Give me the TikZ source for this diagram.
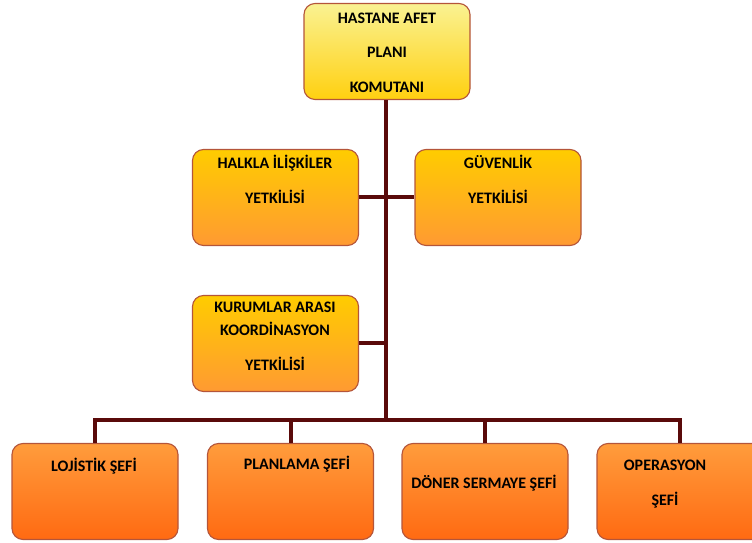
\documentclass[tikz,border=0pt]{standalone}
\usepackage{fontspec}
\setmainfont{Carlito}
\definecolor{lineclr}{HTML}{5A0A0A}
\definecolor{edgeclr}{HTML}{B4553A}
\definecolor{ytop}{HTML}{FAF292}
\definecolor{ybot}{HTML}{FFD010}
\definecolor{mtop}{HTML}{FFCC00}
\definecolor{mbot}{HTML}{FF9A32}
\definecolor{btop}{HTML}{FF9C3C}
\definecolor{bbot}{HTML}{FF6A12}
\begin{document}
\begin{tikzpicture}[x=1pt,y=1pt,
  boxbase/.style={draw=edgeclr, line width=1.1pt, rounded corners=11pt,
    minimum width=166pt, minimum height=96pt, inner sep=0pt},
  topbox/.style={boxbase, top color=ytop, bottom color=ybot},
  midbox/.style={boxbase, top color=mtop, bottom color=mbot},
  lowbox/.style={boxbase, top color=btop, bottom color=bbot},
  lbl/.style={anchor=base, inner sep=0pt, font=\bfseries\fontsize{16}{17}\selectfont, text=black},
  conn/.style={draw=lineclr, line width=4pt}]
\useasboundingbox (0,0) rectangle (752,543);
% boxes
\node[topbox] (top) at (387,491.5) {};
\node[midbox] (hal) at (275.5,345.5) {};
\node[midbox] (guv) at (498,345.5) {};
\node[midbox] (kur) at (275.5,199.5) {};
\node[lowbox] (loj) at (95,51.5) {};
\node[lowbox] (pla) at (290.5,51.5) {};
\node[lowbox] (don) at (485,51.5) {};
\node[lowbox] (ope) at (680,51.5) {};
% connectors
\coordinate (bus) at (386,123);
\coordinate (busL) at (95,123);
\coordinate (busR) at (680,123);
\draw[conn] (top.south -| bus) -- (bus);
\draw[conn] (hal.east) -- (guv.west);
\draw[conn] (kur.east) -- (kur.east -| bus);
\draw[conn] ([xshift=-2pt]busL) -- ([xshift=2pt]busR);
\draw[conn] (busL) -- (loj.north);
\draw[conn] (pla.north |- bus) -- (pla.north);
\draw[conn] (don.north |- bus) -- (don.north);
\draw[conn] (busR) -- (ope.north);
% labels
\node[lbl] (t1) at (387,519) {HASTANE AFET};
\node[lbl] (t2) at (387,485) {PLANI};
\node[lbl] (t3) at (387,450) {KOMUTANI};
\node[lbl] (h1) at (275,374) {HALKLA İLİŞKİLER};
\node[lbl] (h2) at (275,339) {YETKİLİSİ};
\node[lbl] (g1) at (498,374) {GÜVENLİK};
\node[lbl] (g2) at (498,339) {YETKİLİSİ};
\node[lbl] (k1) at (275,230) {KURUMLAR ARASI};
\node[lbl] (k2) at (275,207) {KOORDİNASYON};
\node[lbl] (k3) at (275,172) {YETKİLİSİ};
\node[lbl] (l1) at (94,71) {LOJİSTİK ŞEFİ};
\node[lbl] (p1) at (297,73) {PLANLAMA ŞEFİ};
\node[lbl] (d1) at (484,54) {DÖNER SERMAYE ŞEFİ};
\node[lbl] (o1) at (665,72) {OPERASYON};
\node[lbl] (o2) at (665,37) {ŞEFİ};
\end{tikzpicture}
\end{document}
